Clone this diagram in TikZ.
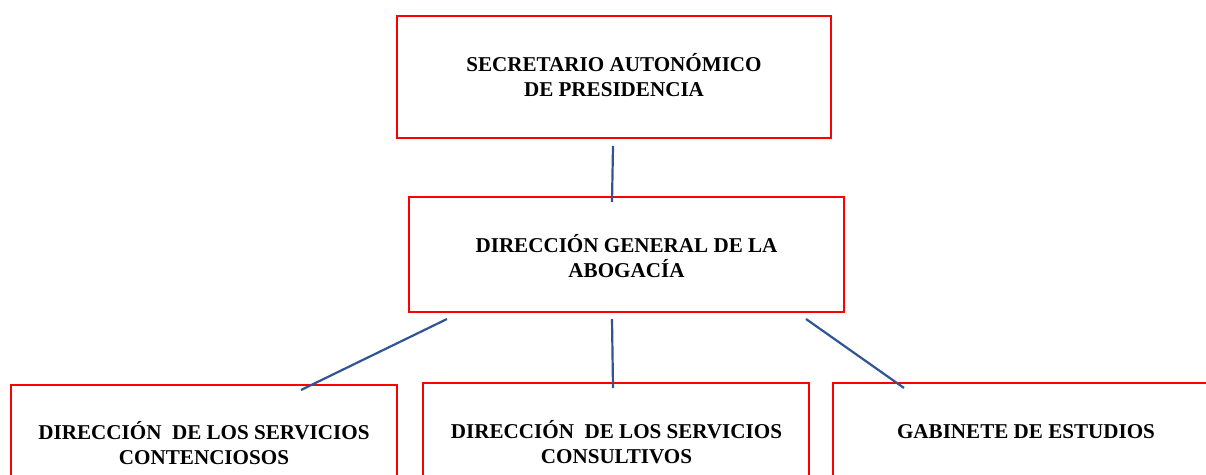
\documentclass[tikz,border=0pt]{standalone}
\usepackage{fontspec}
\setmainfont{Liberation Serif}
\definecolor{boxred}{RGB}{255,0,0}
\definecolor{lineblue}{RGB}{47,85,151}
\begin{document}
\begin{tikzpicture}[x=1pt,y=-1pt,
  orgbox/.style={draw=boxred,line width=2pt,rectangle,inner sep=0pt,outer sep=0pt,anchor=north west},
  lbl/.style={font=\fontsize{21.1}{24.5}\selectfont\bfseries,align=center,anchor=base,inner sep=0pt},
  conn/.style={draw=lineblue,line width=2.2pt}]
\useasboundingbox (0,0) rectangle (1206,474);
\clip (0,0) rectangle (1206,474);
% boxes
\node[orgbox,minimum width=434pt,minimum height=122pt] (sec) at (397,16) {};
\node[orgbox,minimum width=435pt,minimum height=115pt] (dg) at (409,197) {};
\node[orgbox,minimum width=386pt,minimum height=110pt] (cont) at (11,385) {};
\node[orgbox,minimum width=386pt,minimum height=110pt] (cons) at (423,383) {};
\node[orgbox,minimum width=386pt,minimum height=110pt] (gab) at (833,383) {};
% labels (anchor base = baseline of last line)
\node[lbl] (tsec) at (614,96) {SECRETARIO AUTONÓMICO\\DE PRESIDENCIA};
\node[lbl] (tdg) at (626.5,277) {DIRECCIÓN GENERAL DE LA\\ABOGACÍA};
\node[lbl] (tcont) at (204,464) {DIRECCIÓN\ \ DE LOS SERVICIOS\\CONTENCIOSOS};
\node[lbl] (tcons) at (616.5,463) {DIRECCIÓN\ \ DE LOS SERVICIOS\\CONSULTIVOS};
\node[lbl] (tgab) at (1026,438) {GABINETE DE ESTUDIOS};
% connector ends
\coordinate (a1) at (613,146);
\coordinate (a2) at (612,202);
\coordinate (b1) at (447,319);
\coordinate (b2) at (301,390);
\coordinate (c1) at (612,319);
\coordinate (c2) at (613,388);
\coordinate (d1) at (806,319);
\coordinate (d2) at (904,388);
\draw[conn] (a1) -- (a2);
\draw[conn] (b1) -- (b2);
\draw[conn] (c1) -- (c2);
\draw[conn] (d1) -- (d2);
\end{tikzpicture}
\end{document}
